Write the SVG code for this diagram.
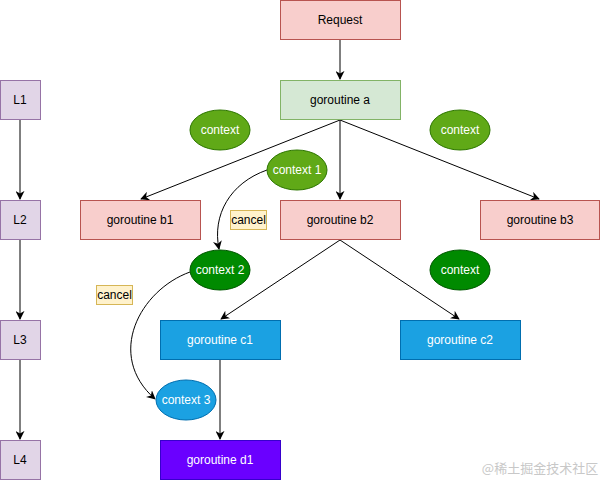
<svg xmlns="http://www.w3.org/2000/svg" width="601" height="481" viewBox="0 0 601 481">
<style>
text{font-family:"Liberation Sans",Arial,sans-serif;font-size:12px;text-anchor:middle;dominant-baseline:central}
.red{fill:#f8cecc;stroke:#b85450}
.grn{fill:#d5e8d4;stroke:#82b366}
.pur{fill:#e1d5e7;stroke:#9673a6}
.blu{fill:#1ba1e2;stroke:#006eaf}
.vio{fill:#6a00ff;stroke:#3700cc}
.c1{fill:#60a917;stroke:#2d7600}
.c2{fill:#008a00;stroke:#005700}
.note{fill:#fff2cc;stroke:#d6b656}
.w{fill:#ffffff}
.e{fill:none;stroke:#000;stroke-width:1;marker-end:url(#arr)}
</style>
<defs>
<marker id="arr" viewBox="0 0 10 10" refX="9" refY="5" markerWidth="9" markerHeight="9" markerUnits="userSpaceOnUse" orient="auto">
<path d="M0,0 L10,5 L0,10 L3,5 Z" fill="#000"/>
</marker>
</defs>
<rect width="601" height="481" fill="#fff"/>
<g id="edges">
<path class="e" d="M340,40 L340,79"/>
<path class="e" d="M340,120 L141,199"/>
<path class="e" d="M340,120 L340,199"/>
<path class="e" d="M340,120 L539,199"/>
<path class="e" d="M340,240 L221,319"/>
<path class="e" d="M340,240 L459,319"/>
<path class="e" d="M220,360 L220,439"/>
<path class="e" d="M20,120 L20,199"/>
<path class="e" d="M20,240 L20,319"/>
<path class="e" d="M20,360 L20,439"/>
<path class="e" d="M267,170 C230,183 212,215 219,249"/>
<path class="e" d="M190,272 C140,290 105,355 155,399"/>
</g>
<g id="request"><rect class="red" x="280.5" y="0.5" width="120" height="39"/><text x="340" y="20">Request</text></g>
<g id="goroutine-a"><rect class="grn" x="280.5" y="80.5" width="120" height="39"/><text x="340" y="100">goroutine a</text></g>
<g id="L1"><rect class="pur" x="0.5" y="80.5" width="40" height="39"/><text x="20" y="100">L1</text></g>
<g id="L2"><rect class="pur" x="0.5" y="200.5" width="40" height="39"/><text x="20" y="220">L2</text></g>
<g id="L3"><rect class="pur" x="0.5" y="320.5" width="40" height="39"/><text x="20" y="340">L3</text></g>
<g id="L4"><rect class="pur" x="0.5" y="440.5" width="40" height="39"/><text x="20" y="460">L4</text></g>
<g id="goroutine-b1"><rect class="red" x="80.5" y="200.5" width="120" height="39"/><text x="140" y="220">goroutine b1</text></g>
<g id="goroutine-b2"><rect class="red" x="280.5" y="200.5" width="120" height="39"/><text x="340" y="220">goroutine b2</text></g>
<g id="goroutine-b3"><rect class="red" x="480.5" y="200.5" width="119" height="39"/><text x="540" y="220">goroutine b3</text></g>
<g id="goroutine-c1"><rect class="blu" x="160.5" y="320.5" width="120" height="39"/><text class="w" x="220" y="340">goroutine c1</text></g>
<g id="goroutine-c2"><rect class="blu" x="400.5" y="320.5" width="120" height="39"/><text class="w" x="460" y="340">goroutine c2</text></g>
<g id="goroutine-d1"><rect class="vio" x="160.5" y="440.5" width="120" height="39"/><text class="w" x="220" y="460">goroutine d1</text></g>
<g id="context-l"><ellipse class="c1" cx="220" cy="130" rx="30" ry="20"/><text class="w" x="220" y="130">context</text></g>
<g id="context-r"><ellipse class="c1" cx="460" cy="130" rx="30" ry="20"/><text class="w" x="460" y="130">context</text></g>
<g id="context-1"><ellipse class="c1" cx="297" cy="170" rx="30" ry="20"/><text class="w" x="297" y="170">context 1</text></g>
<g id="context-2"><ellipse class="c2" cx="220" cy="270" rx="30" ry="20"/><text class="w" x="220" y="270">context 2</text></g>
<g id="context-b"><ellipse class="c2" cx="460" cy="270" rx="30" ry="20"/><text class="w" x="460" y="270">context</text></g>
<g id="context-3"><ellipse class="blu" cx="186" cy="400" rx="30" ry="20"/><text class="w" x="186" y="400">context 3</text></g>
<g id="cancel-1"><rect class="note" x="230.5" y="210.5" width="36" height="19"/><text x="248.5" y="220">cancel</text></g>
<g id="cancel-2"><rect class="note" x="96.5" y="285.5" width="36" height="19"/><text x="114.5" y="295">cancel</text></g>
<text x="540" y="467" style="font-family:'Noto Sans CJK SC',sans-serif;font-size:13px;fill:#c8c8c8">@稀土掘金技术社区</text>
</svg>
